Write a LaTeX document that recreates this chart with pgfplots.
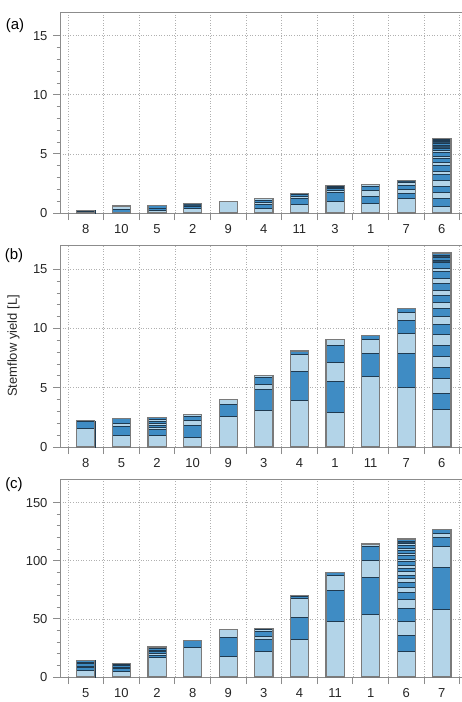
\documentclass[border=0pt]{standalone}
\usepackage{fontspec}
\setmainfont{Liberation Sans}
\usepackage{pgfplots}
\pgfplotsset{compat=1.18}

\definecolor{axgray}{HTML}{8C8C8C}
\definecolor{gridgray}{HTML}{B0B0B0}
\definecolor{lblue}{HTML}{B3D4E8}
\definecolor{mblue}{HTML}{3F8CC4}
\definecolor{dblue}{HTML}{2A4F6B}
\definecolor{segline}{HTML}{1F3A50}
\definecolor{barline}{HTML}{7A7A7A}

% Each bar is built from overlapping bars drawn from the top of the
% stack downwards, so every segment keeps its own fill colour.
\pgfplotsset{
  L/.style={draw=segline, line width=0.6pt, fill=lblue},
  M/.style={draw=segline, line width=0.6pt, fill=mblue},
  D/.style={draw=segline, line width=0.6pt, fill=dblue},
  O/.style={draw=barline, line width=1.2pt, fill=none},
  panel/.style={
    scale only axis, width=405pt,
    xmin=-0.725, xmax=10.65, ymin=0,
    ybar, bar shift=0pt, bar width=0.51,
    axis line style={draw=axgray, line width=0.9pt},
    tick style={draw=axgray, line width=0.8pt},
    tick align=outside, xtick pos=bottom, ytick pos=left,
    major tick length=7pt, minor tick length=3.5pt,
    xtick={-0.5,0.5,...,10.5}, xticklabels={},
    xmajorgrids, ymajorgrids,
    grid style={gridgray, line width=0.6pt, dotted},
    minor y tick num=4,
    extra x ticks={0,1,2,3,4,5,6,7,8,9,10},
    extra x tick style={grid=none, major tick length=0pt},
    ticklabel style={font=\fontsize{13}{15}\selectfont, text=black!85},
    /pgf/number format/assume math mode=true,
    yticklabel style={xshift=-2pt},
    xticklabel style={yshift=-8pt},
  },
}

\begin{document}
\begin{tikzpicture}
% ---------------- (a) ----------------
\begin{axis}[panel, at={(60pt,-213pt)}, anchor=south west, height=201pt,
  ymax=17, ytick={0,5,10,15},
  extra x tick labels={8,10,5,2,9,4,11,3,1,7,6}]
% tree 8
\addplot[D] coordinates {(0,0.2)};
\addplot[M] coordinates {(0,0.12)};
% tree 10
\addplot[L] coordinates {(1,0.6)};
\addplot[M] coordinates {(1,0.3)};
\addplot[D] coordinates {(1,0.1)};
% tree 5
\addplot[M] coordinates {(2,0.62)};
\addplot[D] coordinates {(2,0.43)};
\addplot[M] coordinates {(2,0.36)};
\addplot[L] coordinates {(2,0.22)};
% tree 2
\addplot[D] coordinates {(3,0.8)};
\addplot[M] coordinates {(3,0.55)};
\addplot[L] coordinates {(3,0.42)};
% tree 9
\addplot[L] coordinates {(4,0.95)};
\addplot[D] coordinates {(4,0.1)};
% tree 4
\addplot[L] coordinates {(5,1.24)};
\addplot[M] coordinates {(5,1.1)};
\addplot[L] coordinates {(5,0.88)};
\addplot[M] coordinates {(5,0.7)};
\addplot[L] coordinates {(5,0.42)};
% tree 11
\addplot[D] coordinates {(6,1.68)};
\addplot[M] coordinates {(6,1.58)};
\addplot[L] coordinates {(6,1.45)};
\addplot[M] coordinates {(6,1.28)};
\addplot[L] coordinates {(6,0.7)};
% tree 3
\addplot[L] coordinates {(7,2.3)};
\addplot[D] coordinates {(7,2.2)};
\addplot[M] coordinates {(7,2.1)};
\addplot[L] coordinates {(7,1.92)};
\addplot[M] coordinates {(7,1.78)};
\addplot[L] coordinates {(7,0.95)};
% tree 1
\addplot[L] coordinates {(8,2.42)};
\addplot[M] coordinates {(8,2.3)};
\addplot[L] coordinates {(8,1.9)};
\addplot[M] coordinates {(8,1.4)};
\addplot[L] coordinates {(8,0.78)};
% tree 7
\addplot[D] coordinates {(9,2.73)};
\addplot[L] coordinates {(9,2.58)};
\addplot[M] coordinates {(9,2.37)};
\addplot[L] coordinates {(9,1.98)};
\addplot[M] coordinates {(9,1.7)};
\addplot[L] coordinates {(9,1.24)};
% tree 6
\addplot[D] coordinates {(10,6.27)};
\addplot[M] coordinates {(10,6.15)};
\addplot[D] coordinates {(10,6.05)};
\addplot[M] coordinates {(10,5.9)};
\addplot[D] coordinates {(10,5.7)};
\addplot[M] coordinates {(10,5.5)};
\addplot[L] coordinates {(10,5.3)};
\addplot[M] coordinates {(10,5.1)};
\addplot[L] coordinates {(10,4.8)};
\addplot[M] coordinates {(10,4.6)};
\addplot[L] coordinates {(10,4.25)};
\addplot[M] coordinates {(10,4.05)};
\addplot[L] coordinates {(10,3.55)};
\addplot[M] coordinates {(10,3.3)};
\addplot[L] coordinates {(10,2.78)};
\addplot[M] coordinates {(10,2.28)};
\addplot[L] coordinates {(10,1.73)};
\addplot[M] coordinates {(10,1.25)};
\addplot[L] coordinates {(10,0.6)};
% outer outline of each bar
\addplot[O] coordinates {(0,0.2) (1,0.6) (2,0.62) (3,0.8) (4,0.95) (5,1.24)
  (6,1.68) (7,2.3) (8,2.42) (9,2.73) (10,6.27)};
\end{axis}

% ---------------- (b) ----------------
\begin{axis}[panel, at={(60pt,-447pt)}, anchor=south west, height=201.5pt,
  ymax=17, ytick={0,5,10,15},
  extra x tick labels={8,5,2,10,9,3,4,1,11,7,6}]
% tree 8
\addplot[M] coordinates {(0,2.21)};
\addplot[L] coordinates {(0,1.6)};
% tree 5
\addplot[M] coordinates {(1,2.41)};
\addplot[L] coordinates {(1,2.04)};
\addplot[M] coordinates {(1,1.76)};
\addplot[L] coordinates {(1,1.0)};
% tree 2
\addplot[M] coordinates {(2,2.5)};
\addplot[L] coordinates {(2,2.3)};
\addplot[M] coordinates {(2,2.2)};
\addplot[L] coordinates {(2,2.0)};
\addplot[M] coordinates {(2,1.85)};
\addplot[L] coordinates {(2,1.65)};
\addplot[M] coordinates {(2,1.5)};
\addplot[L] coordinates {(2,0.95)};
% tree 10
\addplot[L] coordinates {(3,2.77)};
\addplot[M] coordinates {(3,2.6)};
\addplot[L] coordinates {(3,2.25)};
\addplot[M] coordinates {(3,1.8)};
\addplot[L] coordinates {(3,0.85)};
% tree 9
\addplot[L] coordinates {(4,4.0)};
\addplot[M] coordinates {(4,3.61)};
\addplot[L] coordinates {(4,2.55)};
% tree 3
\addplot[L] coordinates {(5,6.05)};
\addplot[M] coordinates {(5,5.85)};
\addplot[L] coordinates {(5,5.3)};
\addplot[M] coordinates {(5,4.9)};
\addplot[L] coordinates {(5,3.1)};
% tree 4
\addplot[M] coordinates {(6,8.1)};
\addplot[L] coordinates {(6,7.82)};
\addplot[M] coordinates {(6,6.4)};
\addplot[L] coordinates {(6,3.95)};
% tree 1
\addplot[L] coordinates {(7,9.05)};
\addplot[M] coordinates {(7,8.57)};
\addplot[L] coordinates {(7,7.11)};
\addplot[M] coordinates {(7,5.57)};
\addplot[L] coordinates {(7,2.97)};
% tree 11
\addplot[M] coordinates {(8,9.41)};
\addplot[L] coordinates {(8,9.08)};
\addplot[M] coordinates {(8,7.87)};
\addplot[L] coordinates {(8,6.0)};
% tree 7
\addplot[M] coordinates {(9,11.71)};
\addplot[L] coordinates {(9,11.37)};
\addplot[M] coordinates {(9,10.67)};
\addplot[L] coordinates {(9,9.61)};
\addplot[M] coordinates {(9,7.87)};
\addplot[L] coordinates {(9,5.07)};
% tree 6
\addplot[M] coordinates {(10,16.36)};
\addplot[D] coordinates {(10,16.17)};
\addplot[M] coordinates {(10,16.0)};
\addplot[D] coordinates {(10,15.72)};
\addplot[M] coordinates {(10,15.55)};
\addplot[L] coordinates {(10,15.07)};
\addplot[M] coordinates {(10,14.79)};
\addplot[L] coordinates {(10,14.26)};
\addplot[M] coordinates {(10,13.8)};
\addplot[L] coordinates {(10,13.25)};
\addplot[M] coordinates {(10,12.77)};
\addplot[L] coordinates {(10,12.18)};
\addplot[M] coordinates {(10,11.71)};
\addplot[L] coordinates {(10,11.06)};
\addplot[M] coordinates {(10,10.34)};
\addplot[L] coordinates {(10,9.47)};
\addplot[M] coordinates {(10,8.57)};
\addplot[L] coordinates {(10,7.69)};
\addplot[M] coordinates {(10,6.73)};
\addplot[L] coordinates {(10,5.8)};
\addplot[M] coordinates {(10,4.52)};
\addplot[L] coordinates {(10,3.2)};
% outer outline of each bar
\addplot[O] coordinates {(0,2.21) (1,2.41) (2,2.5) (3,2.77) (4,4.0) (5,6.05)
  (6,8.1) (7,9.05) (8,9.41) (9,11.71) (10,16.36)};
\end{axis}

% ---------------- (c) ----------------
\begin{axis}[panel, at={(60pt,-677pt)}, anchor=south west, height=197.7pt,
  ymax=170, ytick={0,50,100,150},
  extra x tick labels={5,10,2,8,9,3,4,11,1,6,7}]
% tree 5
\addplot[M] coordinates {(0,14)};
\addplot[L] coordinates {(0,12.8)};
\addplot[M] coordinates {(0,12)};
\addplot[D] coordinates {(0,9.5)};
\addplot[M] coordinates {(0,8.5)};
\addplot[L] coordinates {(0,5.5)};
% tree 10
\addplot[M] coordinates {(1,11.4)};
\addplot[D] coordinates {(1,10.8)};
\addplot[M] coordinates {(1,10.2)};
\addplot[L] coordinates {(1,8.6)};
\addplot[M] coordinates {(1,7.5)};
\addplot[L] coordinates {(1,4.6)};
% tree 2
\addplot[L] coordinates {(2,25.8)};
\addplot[M] coordinates {(2,24.3)};
\addplot[L] coordinates {(2,22.8)};
\addplot[M] coordinates {(2,21.8)};
\addplot[L] coordinates {(2,20)};
\addplot[M] coordinates {(2,19)};
\addplot[L] coordinates {(2,17)};
% tree 8
\addplot[M] coordinates {(3,31.2)};
\addplot[L] coordinates {(3,25.8)};
% tree 9
\addplot[L] coordinates {(4,40.7)};
\addplot[M] coordinates {(4,33.8)};
\addplot[L] coordinates {(4,18)};
% tree 3
\addplot[M] coordinates {(5,41.8)};
\addplot[L] coordinates {(5,40.7)};
\addplot[M] coordinates {(5,39)};
\addplot[L] coordinates {(5,35.2)};
\addplot[M] coordinates {(5,32.1)};
\addplot[L] coordinates {(5,21.8)};
% tree 4
\addplot[M] coordinates {(6,69.8)};
\addplot[L] coordinates {(6,67.6)};
\addplot[M] coordinates {(6,51)};
\addplot[L] coordinates {(6,32.7)};
% tree 11
\addplot[M] coordinates {(7,89.8)};
\addplot[L] coordinates {(7,87.7)};
\addplot[M] coordinates {(7,74.8)};
\addplot[L] coordinates {(7,47.9)};
% tree 1
\addplot[L] coordinates {(8,114.3)};
\addplot[M] coordinates {(8,112)};
\addplot[L] coordinates {(8,100)};
\addplot[M] coordinates {(8,86)};
\addplot[L] coordinates {(8,53.9)};
% tree 6
\addplot[M] coordinates {(9,118.6)};
\addplot[D] coordinates {(9,117)};
\addplot[L] coordinates {(9,115)};
\addplot[M] coordinates {(9,113.5)};
\addplot[L] coordinates {(9,110.6)};
\addplot[M] coordinates {(9,108.9)};
\addplot[L] coordinates {(9,106.3)};
\addplot[M] coordinates {(9,104.3)};
\addplot[L] coordinates {(9,101.4)};
\addplot[M] coordinates {(9,99.1)};
\addplot[L] coordinates {(9,96.3)};
\addplot[M] coordinates {(9,93.4)};
\addplot[L] coordinates {(9,90.5)};
\addplot[M] coordinates {(9,87.7)};
\addplot[L] coordinates {(9,84.8)};
\addplot[M] coordinates {(9,81.6)};
\addplot[L] coordinates {(9,77.5)};
\addplot[M] coordinates {(9,72.7)};
\addplot[L] coordinates {(9,67)};
\addplot[M] coordinates {(9,58.8)};
\addplot[L] coordinates {(9,47.8)};
\addplot[M] coordinates {(9,35.8)};
\addplot[L] coordinates {(9,22)};
% tree 7
\addplot[M] coordinates {(10,127)};
\addplot[L] coordinates {(10,123.8)};
\addplot[M] coordinates {(10,119.8)};
\addplot[L] coordinates {(10,112.6)};
\addplot[M] coordinates {(10,94.3)};
\addplot[L] coordinates {(10,58.5)};
% outer outline of each bar
\addplot[O] coordinates {(0,14) (1,11.4) (2,25.8) (3,31.2) (4,40.7) (5,41.8)
  (6,69.8) (7,89.8) (8,114.3) (9,118.6) (10,127)};
\end{axis}

% panel letters and the shared y label
\node[font=\fontsize{15}{17}\selectfont] at (15pt,-26pt) {(a)};
\node[font=\fontsize{15}{17}\selectfont] at (14pt,-256pt) {(b)};
\node[font=\fontsize{15}{17}\selectfont] at (14pt,-485pt) {(c)};
\node[rotate=90, font=\fontsize{13}{15}\selectfont, text=black!85] at (13.5pt,-346pt) {Stemflow yield [L]};

\pgfresetboundingbox
\path[use as bounding box] (0pt,0pt) rectangle (461pt,-702pt);
\end{tikzpicture}
\end{document}
